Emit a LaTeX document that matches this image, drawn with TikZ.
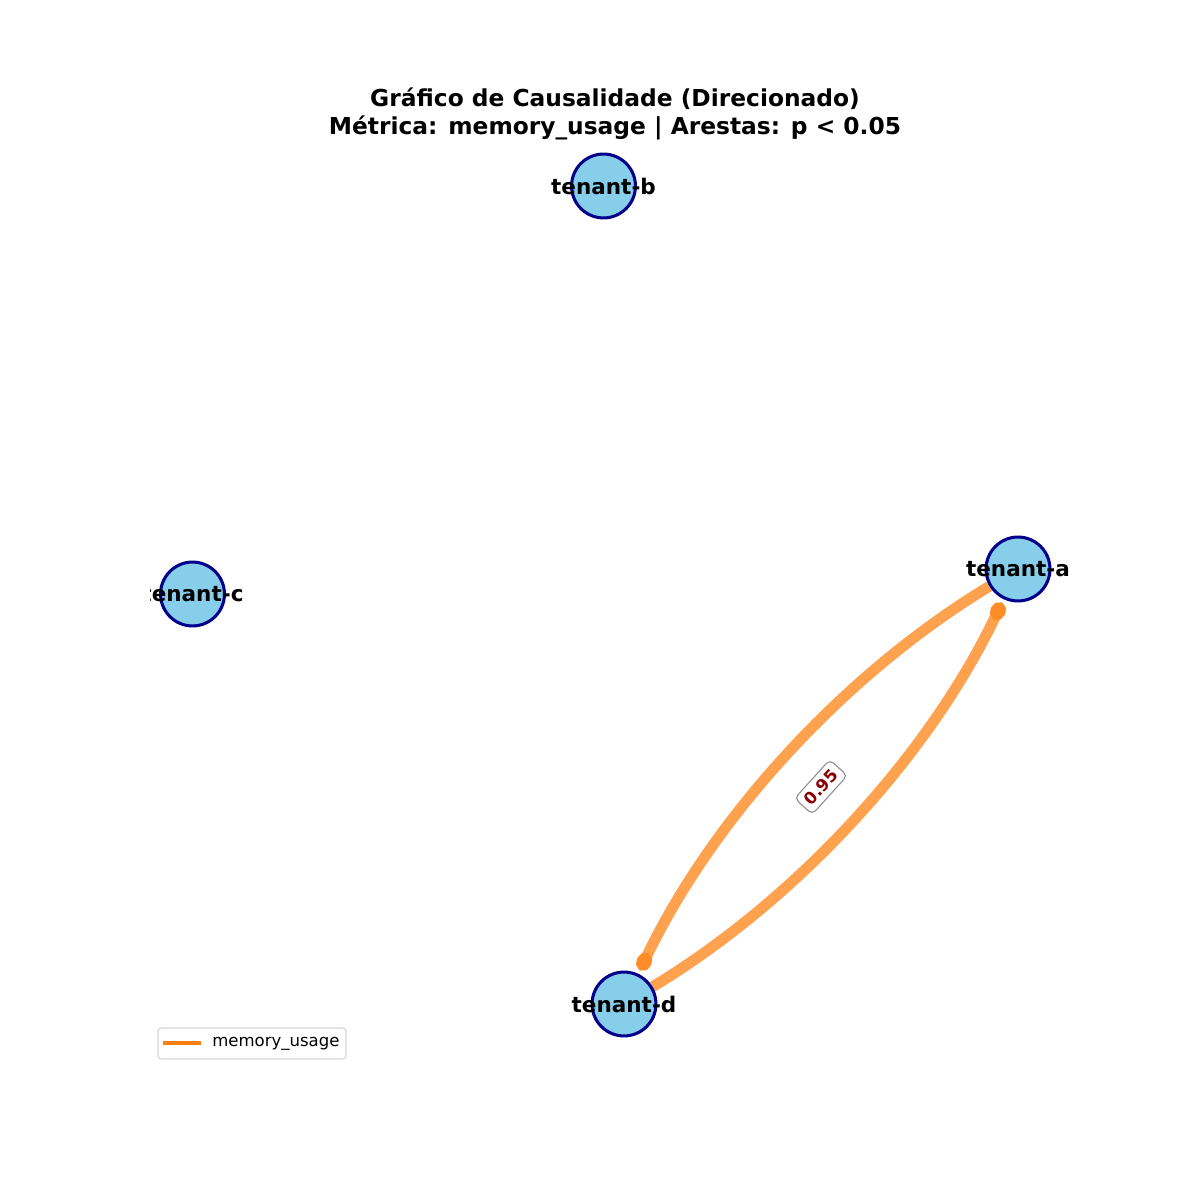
\documentclass[tikz,border=0pt]{standalone}
\usepackage{fontspec}
\setmainfont{DejaVu Sans}
\usetikzlibrary{arrows.meta}
\definecolor{nodefill}{HTML}{87CEEB}
\definecolor{nodeedge}{HTML}{00008B}
\definecolor{edgecol}{HTML}{FFA24F}
\definecolor{tipcol}{HTML}{FF8C26}
\definecolor{legcol}{HTML}{FF7F0E}
\definecolor{lblcol}{HTML}{8B0000}
\definecolor{legframe}{HTML}{D6D6D6}
\definecolor{lblframe}{HTML}{909090}
\pgfdeclarelayer{bg}
\pgfsetlayers{bg,main}
\begin{document}
\begin{tikzpicture}[x=0.72pt,y=-0.72pt,
  tenant/.style={circle,draw=nodeedge,fill=nodefill,line width=2.2pt,minimum size=46pt,inner sep=0pt},
  tlabel/.style={font=\fontsize{15.5}{18}\selectfont\bfseries,inner sep=0pt},
  edgeline/.style={draw=edgecol,line width=7.8pt,shorten >=3pt,
    -{Circle[length=13pt,width=11pt,color=tipcol]}},
  titlefont/.style={font=\fontsize{16.8}{20}\selectfont\bfseries,inner sep=0pt,anchor=base},
  weightlbl/.style={rotate=47.8,draw=lblframe,line width=0.8pt,fill=white,rounded corners=3.5pt,
    text=lblcol,font=\fontsize{12}{14}\selectfont\bfseries,inner xsep=4pt,inner ysep=4pt},
  legbox/.style={draw=legframe,line width=0.8pt,fill=white,rounded corners=2.5pt,
    minimum width=135.4pt,minimum height=22.3pt,inner sep=0pt},
  legtext/.style={font=\fontsize{11.9}{14}\selectfont,inner sep=0pt,anchor=mid west}
]
\useasboundingbox (0,0) rectangle (1200,1200);

% title
\node[titlefont] (t1) at (615,106.5) {Gráfico de Causalidade (Direcionado)};
\node[titlefont] (t2) at (615,134.5) {Métrica: memory\_usage | Arestas: p < 0.05};

% nodes
\node[tenant] (a) at (1018,569) {};
\node[tenant] (b) at (603.5,186) {};
\node[tenant] (c) at (192.5,594) {};
\node[tenant] (d) at (624,1004) {};

\node[tlabel] (la) at (a) {tenant-a};
\node[tlabel] (lb) at (b) {tenant-b};
\begin{scope}
  \clip (150,0) rectangle (1200,1200);
  \node[tlabel] (lc) at (c) {tenant-c};
\end{scope}
\node[tlabel] (ld) at (d) {tenant-d};

% control points (quadratic arc3, rad 0.15, as cubic)
\coordinate (ad1) at (843.2,674.6);
\coordinate (ad2) at (711.8,819.6);
\coordinate (da1) at (798.8,898.4);
\coordinate (da2) at (930.2,753.4);

\begin{pgfonlayer}{bg}
  \fill[white] (0,0) rectangle (1200,1200);
  \draw[edgeline] (a) .. controls (ad1) and (ad2) .. (d);
  \draw[edgeline] (d) .. controls (da1) and (da2) .. (a);
\end{pgfonlayer}

% weight label
\node[weightlbl] (w) at (821,787) {0.95};

% legend
\node[legbox] (leg) at (252,1043.5) {};
\coordinate (lg1) at (163,1043);
\coordinate (lg2) at (201,1043);
\draw[legcol,line width=3pt] (lg1) -- (lg2);
\node[legtext] (lgt) at (212,1043) {memory\_usage};
\end{tikzpicture}
\end{document}
